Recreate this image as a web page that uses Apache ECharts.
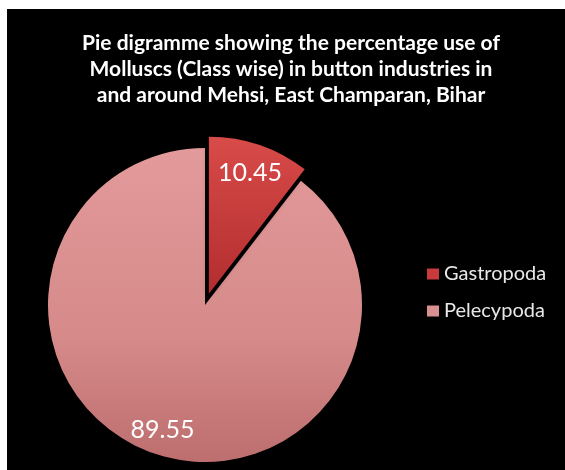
<!DOCTYPE html>
<html><head><meta charset="utf-8">
<script src="https://cdn.jsdelivr.net/npm/echarts@6/dist/echarts.min.js"></script>
<style>html,body{margin:0;padding:0;background:#fff}#c{width:565px;height:470px}</style>
</head><body><div id="c"></div>
<script>
const categories = ['Gastropoda', 'Pelecypoda'];
const values = [10.45, 89.55];
const labels = ['10.45', '89.55'];
const titleText = 'Pie digramme showing the percentage use of\nMolluscs (Class wise) in button industries in\nand around Mehsi, East Champaran, Bihar';

const fills = [
  new echarts.graphic.LinearGradient(0,0,0,1,[{offset:0,color:'#d84b49'},{offset:1,color:'#b32d2f'}]),
  new echarts.graphic.LinearGradient(0,0,0,1,[{offset:0,color:'#e39a9a'},{offset:0.6,color:'#d68a8a'},{offset:1,color:'#bd6e6e'}])
];
const legendColors = ['#c83a3c', '#d89090'];

const chart = echarts.init(document.getElementById('c'));
const R = 157;
const center = [205, 305];
chart.setOption({
  backgroundColor: '#ffffff',
  animation: false,
  graphic: [{type:'rect', z: -10, shape:{x:7, y:9, width:565, height:470}, style:{fill:'#000'}}],
  title: {
    text: titleText, left: 286, top: 25, textAlign: 'center',
    textStyle: {color:'#ffffff', fontFamily:'Lato', fontWeight:'bold', fontSize:21, lineHeight:26}
  },
  legend: {
    orient:'vertical', left: 422, top: 259, itemWidth: 12, itemHeight: 11, itemGap: 17,
    icon: 'rect',
    data: categories.map((n,i)=>({name:n, itemStyle:{color:legendColors[i]}})),
    textStyle: {color:'#e8e8e8', fontFamily:'Lato', fontSize:20}
  },
  series: [{
    type:'pie', center: center, radius: [0, R], startAngle: 90, clockwise: true,
    selectedMode: 'single', selectedOffset: 12, silent: true,
    label: {show:false}, labelLine:{show:false},
    itemStyle: {borderWidth:0, shadowBlur: 6, shadowColor:'rgba(0,0,0,0.6)'},
    data: categories.map((n,i)=>({name:n, value:values[i], selected: i===0, itemStyle:{color:fills[i]}}))
  },{
    type:'pie', center: center, radius: [R*0.64, R], startAngle: 90, clockwise: true,
    selectedMode: 'single', selectedOffset: 8, silent: true, legendHoverLink:false,
    itemStyle: {color:'rgba(0,0,0,0)', borderWidth:0},
    label: {show:true, position:'inside', color:'#ffffff', fontFamily:'Lato', fontSize:25,
      formatter: p => labels[p.dataIndex]},
    labelLine:{show:false},
    data: categories.map((n,i)=>({name:n+' ', value:values[i], selected: i===0}))
  }]
});
</script></body></html>
